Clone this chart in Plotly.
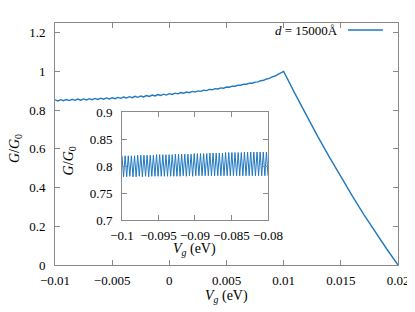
import plotly.graph_objects as go

# ---------------- data ----------------
# main curve: rising part (ripple visible) then descending part
main_x_rise = [round(-0.01 + i * 0.00025, 6) for i in range(81)]
main_y_rise = [
    0.853, 0.8475, 0.854, 0.8485, 0.855, 0.8495, 0.856, 0.8505, 0.857, 0.8515, 0.858,
    0.8526, 0.8592, 0.8538, 0.8604, 0.8550, 0.8616, 0.8562, 0.8628, 0.8574, 0.8640,
    0.8589, 0.8658, 0.8607, 0.8676, 0.8625, 0.8694, 0.8643, 0.8712, 0.8661, 0.8730,
    0.8682, 0.8754, 0.8706, 0.8778, 0.8730, 0.8802, 0.8754, 0.8826, 0.8778, 0.8850,
    0.8810, 0.8875, 0.8840, 0.8905, 0.8870, 0.8935, 0.8900, 0.8965, 0.8930, 0.8995,
    0.897, 0.903, 0.901, 0.907, 0.905, 0.911, 0.909, 0.915, 0.913, 0.919,
    0.9181, 0.9237, 0.9233, 0.9289, 0.9285, 0.9341, 0.9337, 0.9393, 0.9389, 0.9445,
    0.946, 0.952, 0.954, 0.961, 0.964, 0.972, 0.976, 0.985, 0.991, 1.000,
]
main_x_fall = [0.011, 0.012, 0.013, 0.014, 0.015, 0.016, 0.017, 0.018, 0.019, 0.020]
main_y_fall = [0.884, 0.771, 0.662, 0.557, 0.455, 0.357, 0.262, 0.171, 0.084, 0.0]

# inset: fast oscillation, alternating peaks and troughs
inset_peaks = [
    0.819, 0.819, 0.819, 0.819, 0.819, 0.820, 0.820, 0.820, 0.820, 0.820,
    0.820, 0.821, 0.821, 0.821, 0.821, 0.821, 0.821, 0.822, 0.822, 0.822,
    0.822, 0.822, 0.822, 0.823, 0.823, 0.823, 0.823, 0.823, 0.824, 0.824,
    0.824, 0.824, 0.824, 0.825, 0.825, 0.825, 0.825, 0.825, 0.825, 0.826,
    0.826, 0.826, 0.826, 0.826, 0.826, 0.826, 0.826,
]
inset_troughs = [
    0.780, 0.780, 0.781, 0.780, 0.780, 0.781, 0.780, 0.781, 0.780, 0.781,
    0.781, 0.781, 0.781, 0.781, 0.781, 0.781, 0.781, 0.781, 0.781, 0.782,
    0.781, 0.782, 0.781, 0.782, 0.782, 0.782, 0.782, 0.782, 0.782, 0.782,
    0.782, 0.782, 0.782, 0.782, 0.782, 0.782, 0.782, 0.782, 0.782, 0.782,
    0.782, 0.782, 0.782, 0.782, 0.782, 0.782, 0.782,
]
inset_y = []
for p, t in zip(inset_peaks, inset_troughs):
    inset_y.extend([p, t])
inset_x = [-0.1 + 0.02 * i / (len(inset_y) - 1) for i in range(len(inset_y))]

# tick labels
main_xticks = [-0.01, -0.005, 0, 0.005, 0.01, 0.015, 0.02]
main_xtext = ["\u22120.01", "\u22120.005", "0", "0.005", "0.01", "0.015", "0.02"]
main_yticks = [0, 0.2, 0.4, 0.6, 0.8, 1.0, 1.2]
main_ytext = ["0", "0.2", "0.4", "0.6", "0.8", "1", "1.2"]
inset_xticks = [-0.1, -0.095, -0.09, -0.085, -0.08]
inset_xtext = ["\u22120.1", "\u22120.095", "\u22120.09", "\u22120.085", "\u22120.08"]
inset_yticks = [0.7, 0.75, 0.8, 0.85, 0.9]
inset_ytext = ["0.7", "0.75", "0.8", "0.85", "0.9"]

legend_label = "<i>d</i> = 15000Å"

# ---------------- figure ----------------
BLUE = "#1f78c0"
FRAME = "#8a8a8a"
FONT = "Liberation Serif, Times New Roman, serif"

fig = go.Figure()
fig.add_trace(go.Scatter(x=main_x_rise + main_x_fall, y=main_y_rise + main_y_fall,
                         mode="lines", line=dict(color=BLUE, width=1.4),
                         xaxis="x", yaxis="y", showlegend=False))
fig.add_trace(go.Scatter(x=inset_x, y=inset_y, mode="lines",
                         line=dict(color=BLUE, width=1.0),
                         xaxis="x2", yaxis="y2", showlegend=False))

axis_common = dict(showline=True, linecolor=FRAME, linewidth=1, mirror="ticks",
                   ticks="inside", ticklen=5, tickcolor=FRAME, showgrid=False,
                   zeroline=False, automargin=False,
                   tickfont=dict(family=FONT, size=13, color="black"))

# page body has an 8px default margin, so the figure is 8px smaller on each axis
fig.update_layout(
    width=407, height=304,
    margin=dict(l=47, r=17, t=15, b=47, autoexpand=False),
    paper_bgcolor="white", plot_bgcolor="white",
    font=dict(family=FONT, size=13, color="black"),
    xaxis=dict(domain=[0, 1], range=[-0.01, 0.02], tickvals=main_xticks,
               ticktext=main_xtext, ticklabelstandoff=3, **axis_common),
    yaxis=dict(domain=[0, 1], range=[0, 1.25], tickvals=main_yticks,
               ticktext=main_ytext, ticklabelstandoff=6, **axis_common),
    xaxis2=dict(domain=[0.1953, 0.621], range=[-0.1, -0.08], anchor="y2",
                tickvals=inset_xticks, ticktext=inset_xtext, ticklabelstandoff=3,
                **axis_common),
    yaxis2=dict(domain=[0.186, 0.632], range=[0.7, 0.9], anchor="x2",
                tickvals=inset_yticks, ticktext=inset_ytext, ticklabelstandoff=6,
                **axis_common),
    showlegend=False,
)

annotations = [
    dict(text="<i>V<sub>g</sub></i> (eV)", x=0.5, y=-0.13, xref="paper", yref="paper",
         xanchor="center", yanchor="middle", showarrow=False,
         font=dict(family=FONT, size=14)),
    dict(text="<i>G</i>/<i>G</i><sub>0</sub>", x=-0.113, y=0.48, xref="paper", yref="paper",
         xanchor="center", yanchor="middle", textangle=-90, showarrow=False,
         font=dict(family=FONT, size=14)),
    dict(text="<i>V<sub>g</sub></i> (eV)", x=0.408, y=0.065, xref="paper", yref="paper",
         xanchor="center", yanchor="middle", showarrow=False,
         font=dict(family=FONT, size=14)),
    dict(text="<i>G</i>/<i>G</i><sub>0</sub>", x=0.045, y=0.43, xref="paper", yref="paper",
         xanchor="center", yanchor="middle", textangle=-90, showarrow=False,
         font=dict(family=FONT, size=14)),
    dict(text=legend_label, x=0.831, y=0.971, xref="paper", yref="paper",
         xanchor="right", yanchor="middle", showarrow=False,
         font=dict(family=FONT, size=13)),
]
fig.update_layout(annotations=annotations)
fig.add_shape(type="line", xref="paper", yref="paper", x0=0.854, x1=0.956,
              y0=0.971, y1=0.971, line=dict(color=BLUE, width=1.4))

fig.write_html("out.html")
